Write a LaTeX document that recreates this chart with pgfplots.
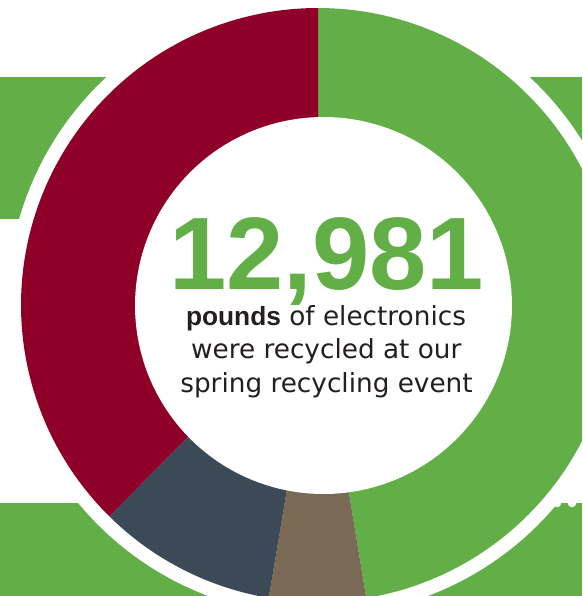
\documentclass[border=0pt]{standalone}
\usepackage{pgfplots}
\pgfplotsset{compat=1.18}
\usepackage{pgfplotstable}
\usepackage{fontspec}
\setmainfont{DejaVu Sans}
\newfontfamily\numfont{Liberation Sans}
\definecolor{cgreen}{HTML}{62AE47}
\definecolor{cred}{HTML}{8E0028}
\definecolor{cnavy}{HTML}{3C4A57}
\definecolor{cbrown}{HTML}{7A6955}
\definecolor{ctext}{HTML}{231F20}

% shares of the ring (percent), clockwise from 12 o'clock
\pgfplotstableread{
part share
green 47.4
brown 5.25
slate 9.75
maroon 37.6
}\shares

\begin{document}%
\begin{tikzpicture}
\pgfplotstablegetelem{0}{share}\of\shares \pgfmathsetmacro\sA{\pgfplotsretval}
\pgfplotstablegetelem{1}{share}\of\shares \pgfmathsetmacro\sB{\pgfplotsretval}
\pgfplotstablegetelem{2}{share}\of\shares \pgfmathsetmacro\sC{\pgfplotsretval}
\pgfplotstablegetelem{3}{share}\of\shares \pgfmathsetmacro\sD{\pgfplotsretval}
\pgfmathsetmacro\aA{3.6*\sA}
\pgfmathsetmacro\aB{\aA+3.6*\sB}
\pgfmathsetmacro\aC{\aB+3.6*\sC}
\pgfmathsetmacro\aD{\aC+3.6*\sD}
\begin{axis}[
  at={(0,0)}, anchor=south west,
  width=582pt, height=596pt, scale only axis,
  xmin=0, xmax=582, ymin=0, ymax=596, y dir=reverse,
  hide axis, clip=true,
]
% background green panels
\addplot[draw=none, fill=cgreen] coordinates {(0,77) (220,77) (220,219) (0,219)} -- cycle;
\addplot[draw=none, fill=cgreen] coordinates {(400,77) (582,77) (582,219) (400,219)} -- cycle;
\addplot[draw=none, fill=cgreen] coordinates {(0,503) (582,503) (582,596) (0,596)} -- cycle;
% white halo
\addplot[draw=none, fill=white, domain=0:360, samples=200, variable=\t]
  ({318+311*cos(\t)}, {305+311*sin(\t)}) -- cycle;
% ring wedges
\addplot[draw=none, fill=cgreen, domain=0:\aA, samples=120, variable=\t]
  ({318+297*sin(\t)}, {305-297*cos(\t)}) -- (318,305) -- cycle;
\addplot[draw=none, fill=cbrown, domain=\aA:\aB, samples=30, variable=\t]
  ({318+297*sin(\t)}, {305-297*cos(\t)}) -- (318,305) -- cycle;
\addplot[draw=none, fill=cnavy, domain=\aB:\aC, samples=40, variable=\t]
  ({318+297*sin(\t)}, {305-297*cos(\t)}) -- (318,305) -- cycle;
\addplot[draw=none, fill=cred, domain=\aC:\aD, samples=120, variable=\t]
  ({318+297*sin(\t)}, {305-297*cos(\t)}) -- (318,305) -- cycle;
% inner hole
\addplot[draw=none, fill=white, domain=0:360, samples=200, variable=\t]
  ({323.5+188.5*cos(\t)}, {305.5+188.5*sin(\t)}) -- cycle;
% dots
\addplot[only marks, mark=*, mark size=4pt, draw=white, fill=white] coordinates {(557,503) (572,503) (587,503)};
% text
\node[anchor=base, text=cgreen, inner sep=0pt, font=\numfont\bfseries\fontsize{103}{103}\selectfont] at (326.7,289.3) {12,981};
\node[anchor=base, text=ctext, inner sep=0pt, font=\fontsize{26.3}{30}\selectfont] at (326,325) {{\numfont\bfseries pounds} of electronics};
\node[anchor=base, text=ctext, inner sep=0pt, font=\fontsize{26.3}{30}\selectfont] at (326.3,358.3) {were recycled at our};
\node[anchor=base, text=ctext, inner sep=0pt, font=\fontsize{26.3}{30}\selectfont] at (326.5,392) {spring recycling event};
\end{axis}
\pgfresetboundingbox
\path[use as bounding box] (0,0) rectangle (582pt,596pt);
\end{tikzpicture}%
\end{document}
